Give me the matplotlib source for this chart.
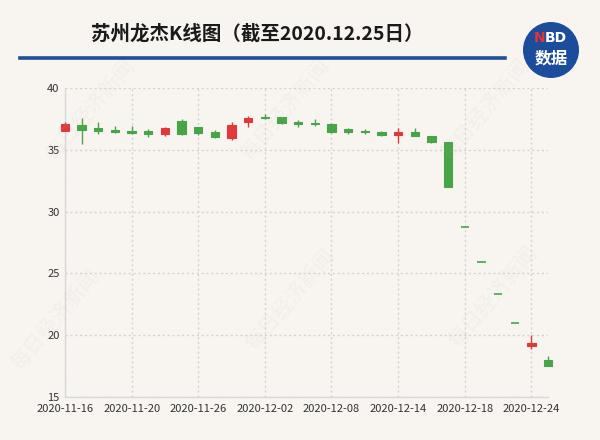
import matplotlib
matplotlib.use("Agg")
import matplotlib.pyplot as plt
from matplotlib.patches import Ellipse

plt.rcParams['font.family'] = ['Noto Sans CJK SC', 'DejaVu Sans']

dates = ["2020-11-16", "2020-11-17", "2020-11-18", "2020-11-19", "2020-11-20",
         "2020-11-23", "2020-11-24", "2020-11-25", "2020-11-26", "2020-11-27",
         "2020-11-30", "2020-12-01", "2020-12-02", "2020-12-03", "2020-12-04",
         "2020-12-07", "2020-12-08", "2020-12-09", "2020-12-10", "2020-12-11",
         "2020-12-14", "2020-12-15", "2020-12-16", "2020-12-17", "2020-12-18",
         "2020-12-21", "2020-12-22", "2020-12-23", "2020-12-24", "2020-12-25"]
open_ = [36.53, 37.00, 36.76, 36.62, 36.56, 36.54, 36.30, 37.35, 36.84, 36.43,
         36.00, 37.30, 37.70, 37.65, 37.24, 37.21, 37.10, 36.68, 36.56, 36.48,
         36.22, 36.48, 36.16, 35.67, 28.78, 25.90, 23.31, 20.98, 19.10, 18.00]
close = [37.08, 36.60, 36.50, 36.43, 36.35, 36.30, 36.80, 36.27, 36.40, 36.03,
         37.03, 37.62, 37.62, 37.16, 37.08, 37.10, 36.48, 36.48, 36.43, 36.22,
         36.48, 36.13, 35.62, 31.98, 28.78, 25.90, 23.31, 20.98, 19.35, 17.52]
high = [37.30, 37.60, 37.30, 36.94, 36.97, 36.68, 36.84, 37.49, 36.84, 36.62,
        37.30, 37.75, 37.92, 37.65, 37.43, 37.49, 37.20, 36.81, 36.68, 36.50,
        36.81, 36.75, 36.16, 35.67, 28.78, 25.90, 23.31, 20.98, 20.00, 18.33]
low = [36.50, 35.46, 36.30, 36.35, 36.30, 36.08, 36.13, 36.25, 36.20, 36.00,
       35.81, 36.84, 37.49, 37.08, 36.84, 36.94, 36.40, 36.27, 36.30, 36.10,
       35.54, 36.10, 35.60, 31.98, 28.78, 25.90, 23.31, 20.98, 18.90, 17.46]
yticks = [15, 20, 25, 30, 35, 40]
title = "苏州龙杰K线图（截至2020.12.25日）"

BG = "#f8f5f1"
UP = "#e0393a"
DOWN = "#47a548"

fig = plt.figure(figsize=(6, 4.4), dpi=100, facecolor=BG)
ax = fig.add_axes([65 / 600, 1 - 396.8 / 440, 483 / 600, 308.5 / 440])
ax.set_facecolor(BG)

x = list(range(len(dates)))
for i in x:
    o, c, h, l = open_[i], close[i], high[i], low[i]
    col = UP if c > o else DOWN
    ax.vlines(i, l, h, color=col, linewidth=1.0, zorder=3, clip_on=False)
    b = min(o, c)
    ht = abs(c - o)
    lw = 1.2 if ht == 0 else 0.8
    ax.bar(i, ht, bottom=b, width=0.5, color=col, edgecolor=col,
           linewidth=lw, zorder=4, clip_on=False)

ax.set_xlim(0, len(dates) - 1)
ax.set_ylim(15, 40)
ax.set_yticks(yticks)
ax.set_yticklabels([str(v) for v in yticks])
tick_idx = list(range(0, len(dates), 4))
ax.set_xticks(tick_idx)
ax.set_xticklabels([dates[i] for i in tick_idx])
ax.tick_params(length=0, labelsize=8, colors="#333333", pad=4)
ax.tick_params(axis='x', pad=5)

ax.grid(True, linestyle=(0, (1.5, 2)), color="#d6d2cc", linewidth=1.0, zorder=0)
for s in ["top", "right"]:
    ax.spines[s].set_visible(False)
for s in ["left", "bottom"]:
    ax.spines[s].set_color("#d8d8d8")
    ax.spines[s].set_linewidth(1.0)

# watermarks
for (wx, wy) in [(90, 110), (285, 110), (485, 110), (55, 320), (290, 300), (493, 297)]:
    fig.text(wx / 600, 1 - wy / 440, "每日经济新闻", fontsize=15, color="#c0b8b0",
             alpha=0.10, rotation=50, ha="center", va="center", zorder=0)

# title
fig.text(257 / 600, 1 - 34 / 440, title, fontsize=14, fontweight="bold",
         color="#1a1a1a", ha="center", va="center")
fig.add_artist(plt.Line2D([20 / 600, 505 / 600], [1 - 58 / 440, 1 - 58 / 440],
                          color="#1f4f98", linewidth=2.6, transform=fig.transFigure))

# logo
circ = Ellipse((551 / 600, 1 - 50 / 440), 56 / 600, 56 / 440,
               facecolor="#1c4c9c", edgecolor="none")
circ.set_transform(fig.transFigure)
fig.patches.append(circ)
fig.text(539.5 / 600, 1 - 38 / 440, "N", fontsize=10, fontweight="bold",
         color="#e8322f", ha="center", va="center", family=["DejaVu Sans"])
fig.text(556 / 600, 1 - 38 / 440, "BD", fontsize=10, fontweight="bold",
         color="white", ha="center", va="center", family=["DejaVu Sans"])
fig.text(551 / 600, 1 - 58 / 440, "数据", fontsize=12, fontweight="bold",
         color="white", ha="center", va="center")

fig.savefig("out.png", dpi=100, facecolor=BG)
